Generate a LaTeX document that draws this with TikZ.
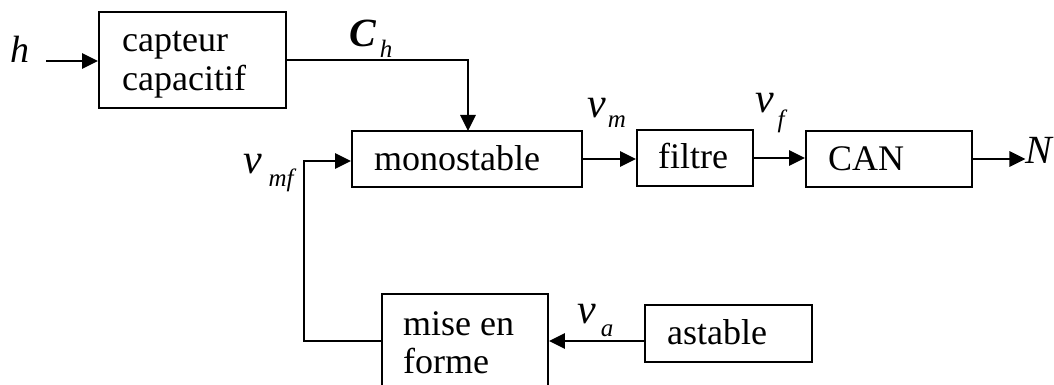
\documentclass[tikz,border=0pt]{standalone}
\usepackage{fontspec}
\setmainfont{Liberation Serif}
\usetikzlibrary{arrows.meta,calc}
\tikzset{
  blk/.style={draw, line width=1.9pt, inner sep=0pt},
  txt/.style={inner sep=0pt, anchor=base west, font=\fontsize{36}{40}\selectfont},
  conn/.style={line width=2.8pt},
  arr/.style={conn, -{Triangle[length=16pt,width=15pt]}},
  big/.style={inner sep=0pt, font=\fontsize{42}{44}\selectfont\itshape},
  mid/.style={inner sep=0pt, font=\fontsize{38}{40}\selectfont\itshape},
  sub/.style={inner sep=0pt, font=\fontsize{25}{27}\selectfont\itshape}
}
\begin{document}
\begin{tikzpicture}[x=1pt,y=-1pt]
\useasboundingbox (0,0) rectangle (1054,385);
\clip (0,0) rectangle (1054,385);
% blocks
\node[blk, minimum width=187pt, minimum height=96pt] (capteur) at (192.5,60) {};
\node[blk, minimum width=230pt, minimum height=56pt] (mono) at (467,159) {};
\node[blk, minimum width=116pt, minimum height=56pt] (filtre) at (695,158) {};
\node[blk, minimum width=166pt, minimum height=56pt] (can) at (889,159) {};
\node[blk, minimum width=167pt, minimum height=57pt] (astable) at (728.5,333.5) {};
\node[blk, minimum width=166pt, minimum height=102pt] (mise) at (465,345) {};
% block texts
\node[txt] (t1) at (122,52) {capteur};
\node[txt] (t2) at (122,91) {capacitif};
\node[txt] (t3) at (374,170) {monostable};
\node[txt] (t4) at (658,168) {filtre};
\node[txt] (t5) at (828,170) {CAN};
\node[txt] (t6) at (667,344) {astable};
\node[txt] (t7) at (403,335) {mise en};
\node[txt] (t8) at (403,373) {forme};
% labels
\node[mid] (h) at (20,49) {h};
\node[mid, font=\fontsize{40}{42}\selectfont\itshape] (N) at (1039,150) {N};
\node[mid, font=\fontsize{40}{42}\selectfont\bfseries\itshape] (C) at (363,33) {C};
\node[sub, font=\fontsize{25}{27}\selectfont\itshape] (Ch) at (386,49) {h};
\node[big] (vm) at (597,108) {v};
\node[sub] (vmsub) at (617,122) {m};
\node[big] (vf) at (765,103) {v};
\node[sub] (vfsub) at (781,121) {f};
\node[big] (vmf) at (253,164) {v};
\node[sub] (vmfsub) at (281,180) {mf};
\node[big] (va) at (587,314) {v};
\node[sub] (vasub) at (607,331) {a};
% coordinates
\coordinate (hin) at (46,61);
\coordinate (monoin) at (468,131);
\coordinate (ain) at (645,341);
\coordinate (corner) at (304,341);
% connectors
\draw[arr] (hin) -- (hin -| capteur.west);
\draw[arr] (capteur.east) -| (monoin);
\draw[arr] (mono.east) -- (filtre.west |- mono.east);
\draw[arr] (filtre.east) -- (can.west |- filtre.east);
\draw[arr] (can.east) -- (can.east -| N.west);
\draw[arr] (ain) -- (ain -| mise.east);
\draw[arr] (mise.west |- ain) -- (corner) |- ($(mono.west)+(0,2)$);
\end{tikzpicture}
\end{document}
